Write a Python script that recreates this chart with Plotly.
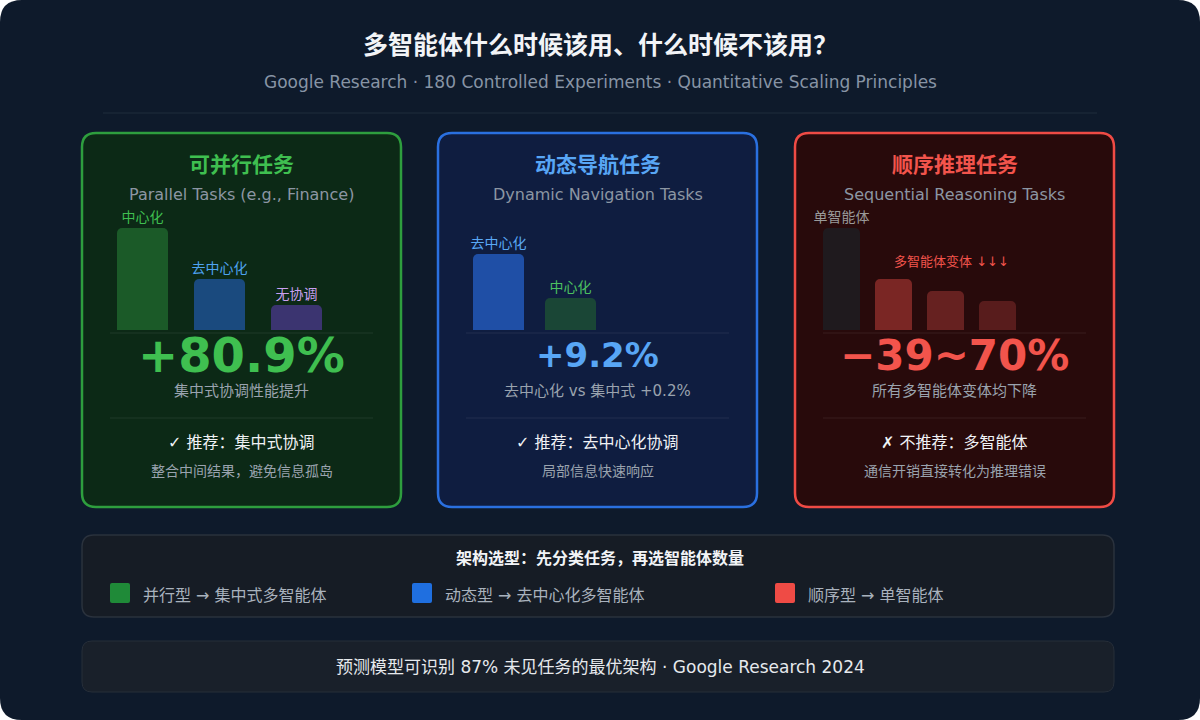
import plotly.graph_objects as go

W, H = 1200, 720
FONT = "DejaVu Sans, Noto Sans CJK SC"

# ---- data ----
p1_cats = ["中心化", "去中心化", "无协调"]
p1_vals = [102, 51, 25]
p1_cols = ["#1b5a28", "#1a4a7e", "#3b3470"]
p1_lbl_cols = ["#3fbf50", "#4ea3f0", "#c9a0f0"]

p2_cats = ["去中心化", "中心化"]
p2_vals = [76, 32]
p2_cols = ["#1f4fa6", "#1a4636"]
p2_lbl_cols = ["#5aa8f5", "#4cc060"]

p3_cats = ["单智能体", "变体A", "变体B", "变体C"]
p3_labels = ["单智能体", "", "", ""]
p3_vals = [102, 51, 39, 29]
p3_cols = ["#1f1a1e", "#7a2624", "#662120", "#581c1c"]

panels = [
    dict(x0=82, x1=401, border="#2e9e3e", fill="#0c2916", color="#3fbf50",
         title="可并行任务", sub="Parallel Tasks (e.g., Finance)", big="+80.9%", bigsize=48,
         desc="集中式协调性能提升", rec="✓ 推荐：集中式协调", rec2="整合中间结果，避免信息孤岛"),
    dict(x0=438, x1=757, border="#2a70e0", fill="#0f1d40", color="#58a6f5",
         title="动态导航任务", sub="Dynamic Navigation Tasks", big="+9.2%", bigsize=34,
         desc="去中心化 vs 集中式 +0.2%", rec="✓ 推荐：去中心化协调", rec2="局部信息快速响应"),
    dict(x0=795, x1=1114, border="#ef4b45", fill="#280a0b", color="#f2544c",
         title="顺序推理任务", sub="Sequential Reasoning Tasks", big="−39~70%", bigsize=42,
         desc="所有多智能体变体均下降", rec="✗ 不推荐：多智能体", rec2="通信开销直接转化为推理错误"),
]

legend_items = ["并行型 → 集中式多智能体", "动态型 → 去中心化多智能体", "顺序型 → 单智能体"]
legend_cols = ["#1f8a38", "#1f6fe0", "#ef4b45"]
legend_x = [110, 412, 775]


def rrect(x0, y0, x1, y1, r):
    return (f"M{x0+r},{y0} L{x1-r},{y0} Q{x1},{y0} {x1},{y0+r} L{x1},{y1-r} Q{x1},{y1} {x1-r},{y1} "
            f"L{x0+r},{y1} Q{x0},{y1} {x0},{y1-r} L{x0},{y0+r} Q{x0},{y0} {x0+r},{y0} Z")


shapes, ann = [], []


def text(x, y, s, size, color, bold=False, xanchor="center"):
    ann.append(dict(x=x, y=y, xref="x", yref="y", text=f"<b>{s}</b>" if bold else s, showarrow=False,
                    font=dict(size=size, color=color, family=FONT), xanchor=xanchor, yanchor="middle"))


shapes.append(dict(type="path", path=rrect(0, 0, W, H, 22), fillcolor="#0e1a2b", line=dict(width=0), layer="below"))
text(600, 45, "多智能体什么时候该用、什么时候不该用？", 25, "#f2f4f7", True)
text(600, 82, "Google Research · 180 Controlled Experiments · Quantitative Scaling Principles", 17, "#8794a5")
shapes.append(dict(type="line", x0=103, x1=1097, y0=113, y1=113, line=dict(color="#1f2c3d", width=1)))

for p in panels:
    cx = (p["x0"] + p["x1"]) / 2
    shapes.append(dict(type="path", path=rrect(p["x0"], 133, p["x1"], 507, 14), fillcolor=p["fill"],
                       line=dict(color=p["border"], width=2.5), layer="below"))
    shapes.append(dict(type="line", x0=p["x0"] + 28, x1=p["x1"] - 28, y0=333, y1=333, line=dict(color="rgba(255,255,255,0.08)", width=1)))
    shapes.append(dict(type="line", x0=p["x0"] + 28, x1=p["x1"] - 28, y0=418, y1=418, line=dict(color="rgba(255,255,255,0.08)", width=1)))
    text(cx, 165, p["title"], 21, p["color"], True)
    text(cx, 194, p["sub"], 16, "#8c96a3")
    text(cx, 355, p["big"], p["bigsize"], p["color"], True)
    text(cx, 391, p["desc"], 15, "#9aa3ae")
    text(cx, 442, p["rec"], 16, "#f0f2f5")
    text(cx, 471, p["rec2"], 14, "#9aa3ae")

text(951, 261, "多智能体变体 ↓↓↓", 13, "#f2544c")

shapes.append(dict(type="path", path=rrect(82, 535, 1114, 617, 12), fillcolor="#161c25",
                   line=dict(color="#2a323d", width=1.5), layer="below"))
text(600, 558, "架构选型：先分类任务，再选智能体数量", 16, "#f2f4f7", True)
for lx, lc, lt in zip(legend_x, legend_cols, legend_items):
    shapes.append(dict(type="path", path=rrect(lx, 583, lx + 20, 603, 2), fillcolor=lc, line=dict(width=0)))
    text(lx + 31, 595, lt, 16, "#a9b2bd", xanchor="left")

shapes.append(dict(type="path", path=rrect(82, 641, 1114, 692, 10), fillcolor="#19202a",
                   line=dict(color="#262e39", width=1), layer="below"))
text(600, 667, "预测模型可识别 87% 未见任务的最优架构 · Google Research 2024", 17, "#e6e9ed")

fig = go.Figure()
fig.add_trace(go.Scatter(x=[0, W], y=[0, H], mode="markers", marker=dict(opacity=0), hoverinfo="skip", showlegend=False))


def py(v):
    return (H - v) / H


base = 330
bar_specs = [
    (p1_cats, p1_vals, p1_cols, p1_cats, p1_lbl_cols, 104, 335, 51 / 77, 102),
    (p2_cats, p2_vals, p2_cols, p2_cats, p2_lbl_cols, 462.5, 606.5, 51 / 72, 102),
    (p3_cats, p3_vals, p3_cols, p3_labels, ["#9a9a9a"] * 4, 815.5, 1023.5, 37 / 52, 102),
]
layout_axes = {}
for i, (cats, vals, cols, labels, lcols, dx0, dx1, wd, ymax) in enumerate(bar_specs, start=2):
    fig.add_trace(go.Bar(x=cats, y=vals, marker=dict(color=cols, cornerradius=5, line=dict(width=0)),
                         width=wd, text=labels, textposition="outside", cliponaxis=False, constraintext="none",
                         textfont=dict(size=14, color=lcols, family=FONT),
                         xaxis=f"x{i}", yaxis=f"y{i}", showlegend=False, hoverinfo="skip"))
    layout_axes[f"xaxis{i}"] = dict(domain=[dx0 / W, dx1 / W], visible=False, fixedrange=True)
    layout_axes[f"yaxis{i}"] = dict(domain=[py(base), py(base - ymax)], range=[0, ymax], visible=False, fixedrange=True)

fig.update_layout(
    width=W, height=H, margin=dict(l=0, r=0, t=0, b=0),
    paper_bgcolor="#ffffff", plot_bgcolor="rgba(0,0,0,0)",
    xaxis=dict(range=[0, W], visible=False, fixedrange=True),
    yaxis=dict(range=[H, 0], visible=False, fixedrange=True),
    shapes=shapes, annotations=ann, showlegend=False,
    **layout_axes,
)
fig.write_html("out.html", config={"displayModeBar": False},
               post_script="document.body.style.margin='0';document.body.style.overflow='hidden';")
